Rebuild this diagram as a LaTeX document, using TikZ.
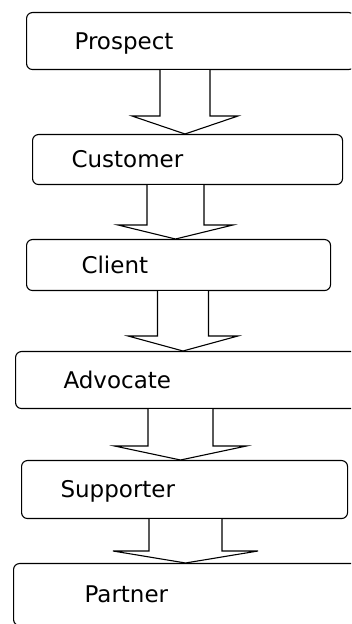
\documentclass[tikz,border=0pt]{standalone}
\usepackage{fontspec}
\setmainfont{DejaVu Sans}
\usetikzlibrary{calc}

\tikzset{
  stage/.style={draw, rounded corners=6pt, line width=1.1pt, anchor=north west,
    align=left, text height=16.8pt, text depth=0pt, inner ysep=0pt,
    font=\fontsize{23}{28}\selectfont},
  blockarrow/.style={draw, line width=1.1pt, line join=miter, fill=white}
}

% #1 upper node, #2 lower node, #3 x of axis, #4 half shaft, #5 half head, #6 head length
\newcommand{\stagearrow}[6]{%
  \draw[blockarrow] let \p1=(#1.south), \p2=(#2.north) in
    (#3-#4,\y1) -- (#3-#4,\y2+#6) -- (#3-#5,\y2+#6) -- (#3,\y2)
    -- (#3+#5,\y2+#6) -- (#3+#4,\y2+#6) -- (#3+#4,\y1);
}

\begin{document}
\begin{tikzpicture}[x=1pt, y=1pt]
  \useasboundingbox (0,0) rectangle (351,624);
  \clip (0,0) rectangle (351,624);

  % ================= stages =================
  \node[stage, minimum width=328pt, minimum height=57pt, inner xsep=48pt, text width=232pt]
    (prospect) at (26,612) {Prospect};
  \node[stage, minimum width=310pt, minimum height=50pt, inner xsep=39pt, text width=232pt]
    (customer) at (32,490) {Customer};
  \node[stage, minimum width=304pt, minimum height=51pt, inner xsep=55pt, text width=194pt]
    (client) at (26,385) {Client};
  \node[stage, minimum width=355pt, minimum height=57pt, inner xsep=48pt, text width=259pt]
    (advocate) at (15,273) {Advocate};
  \node[stage, minimum width=326pt, minimum height=58pt, inner xsep=39pt, text width=248pt]
    (supporter) at (21,164) {Supporter};
  \node[stage, minimum width=357pt, minimum height=62pt, inner xsep=71pt, text width=215pt]
    (partner) at (13,61) {Partner};

  % ================= arrows =================
  \stagearrow{prospect}{customer}{185}{25}{53}{18}
  \stagearrow{customer}{client}{175.5}{28.5}{57.5}{14}
  \stagearrow{client}{advocate}{183}{25.5}{55}{15}
  \stagearrow{advocate}{supporter}{180.5}{32.5}{66}{14}
  \stagearrow{supporter}{partner}{185.5}{36.5}{72.5}{12}

\end{tikzpicture}
\end{document}
